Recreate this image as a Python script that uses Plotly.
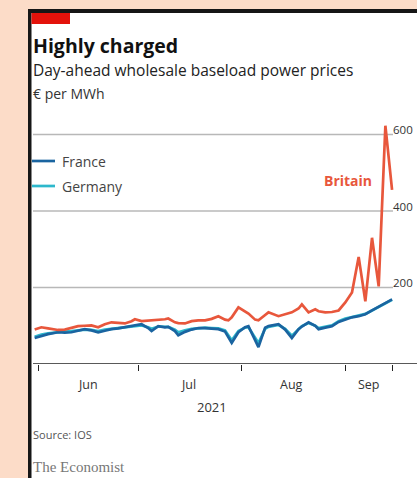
import plotly.graph_objects as go

# ---- data ----
dates = [
    "2021-05-31", "2021-06-02", "2021-06-04", "2021-06-07", "2021-06-09", "2021-06-11",
    "2021-06-13", "2021-06-15", "2021-06-17", "2021-06-19", "2021-06-21", "2021-06-23",
    "2021-06-25", "2021-06-27", "2021-06-29", "2021-06-30", "2021-07-02", "2021-07-04",
    "2021-07-05", "2021-07-07", "2021-07-09", "2021-07-10", "2021-07-12", "2021-07-13",
    "2021-07-15", "2021-07-17", "2021-07-19", "2021-07-21", "2021-07-23", "2021-07-25",
    "2021-07-27", "2021-07-28", "2021-07-29", "2021-07-31", "2021-08-02", "2021-08-03",
    "2021-08-05", "2021-08-06", "2021-08-08", "2021-08-09", "2021-08-12", "2021-08-14",
    "2021-08-16", "2021-08-18", "2021-08-19", "2021-08-21", "2021-08-23", "2021-08-24",
    "2021-08-26", "2021-08-28", "2021-08-30", "2021-09-01", "2021-09-03", "2021-09-05",
    "2021-09-07", "2021-09-09", "2021-09-11", "2021-09-13", "2021-09-15",
]
britain = [
    90, 96, 93, 89, 90, 95, 99, 100, 101, 96, 104, 109,
    107, 106, 112, 117, 112, 113, 114, 115, 117, 119, 109, 107,
    106, 112, 114, 114, 118, 125, 116, 114, 122, 148, 136, 132,
    116, 114, 128, 135, 125, 130, 135, 145, 156, 135, 143, 138,
    135, 136, 140, 161, 187, 280, 164, 330, 203, 623, 455,
]
france = [
    68, 74, 78, 83, 82, 83, 87, 91, 88, 83, 87, 91,
    93, 96, 98, 99, 104, 94, 86, 99, 96, 97, 86, 75,
    84, 90, 94, 94, 93, 91, 85, 70, 55, 83, 96, 99,
    62, 44, 95, 99, 104, 90, 68, 91, 98, 109, 100, 91,
    95, 99, 110, 117, 122, 125, 130, 140, 150, 158, 169,
]
germany = [
    71, 77, 80, 84, 85, 86, 88, 90, 89, 86, 90, 92,
    94, 96, 99, 100, 101, 96, 92, 98, 97, 97, 90, 83,
    88, 92, 93, 95, 94, 93, 88, 75, 62, 86, 95, 96,
    68, 55, 92, 97, 102, 92, 74, 92, 99, 107, 100, 94,
    97, 101, 112, 119, 123, 127, 131, 140, 150, 159, 168,
]
y_ticks = [200, 400, 600]
y_tick_text = ["200", "400", "600"]
month_ticks = ["2021-06-01", "2021-07-01", "2021-08-01", "2021-09-01", "2021-09-15"]
month_labels = ["Jun", "Jul", "Aug", "Sep"]
month_label_pos = ["2021-06-16", "2021-07-16", "2021-08-16", "2021-09-08"]

# ---- layout helpers (pixel -> paper) ----
W, H = 417, 478
L, R, T, B = 33, 405, 105, 364
GRID_END = 393


def xp(px):
    return (px - L) / (R - L)


def yp(py):
    return (B - py) / (B - T)


RED = "#E8573C"
BLUE = "#1A64A0"
CYAN = "#2DB8CC"
PEACH = "#FCDCC8"
FONT = "Open Sans"

fig = go.Figure()
fig.add_trace(go.Scatter(x=dates, y=germany, mode="lines", name="Germany",
                         line=dict(color=CYAN, width=2.7), hoverinfo="skip"))
fig.add_trace(go.Scatter(x=dates, y=france, mode="lines", name="France",
                         line=dict(color=BLUE, width=2.7), hoverinfo="skip"))
fig.add_trace(go.Scatter(x=dates, y=britain, mode="lines", name="Britain",
                         line=dict(color=RED, width=2.7), hoverinfo="skip"))

shapes = [
    # peach surround
    dict(type="rect", xref="paper", yref="paper", x0=xp(-5), x1=xp(28), y0=yp(H + 5), y1=yp(-5),
         fillcolor=PEACH, line_width=0),
    dict(type="rect", xref="paper", yref="paper", x0=xp(-5), x1=xp(W + 5), y0=yp(9), y1=yp(-5),
         fillcolor=PEACH, line_width=0),
    # black frame
    dict(type="rect", xref="paper", yref="paper", x0=xp(28), x1=xp(31.5), y0=yp(H + 5), y1=yp(9),
         fillcolor="#161616", line_width=0),
    dict(type="rect", xref="paper", yref="paper", x0=xp(28), x1=xp(W + 5), y0=yp(13), y1=yp(9),
         fillcolor="#161616", line_width=0),
    # red tag
    dict(type="rect", xref="paper", yref="paper", x0=xp(31.5), x1=xp(70), y0=yp(24), y1=yp(13),
         fillcolor="#E3120B", line_width=0),
    # x axis baseline
    dict(type="line", xref="paper", yref="y", x0=0, x1=xp(W + 5), y0=0, y1=0,
         line=dict(color="#222222", width=1.6)),
    # legend keys
    dict(type="line", xref="paper", yref="paper", x0=xp(32), x1=xp(55), y0=yp(161), y1=yp(161),
         line=dict(color=BLUE, width=2.7)),
    dict(type="line", xref="paper", yref="paper", x0=xp(32), x1=xp(55), y0=yp(186), y1=yp(186),
         line=dict(color=CYAN, width=2.7)),
]
# horizontal gridlines on the y scale
for v in y_ticks:
    shapes.append(dict(type="line", xref="paper", yref="y", x0=0, x1=xp(GRID_END), y0=v, y1=v,
                       line=dict(color="#B8B8B8", width=1.3), layer="below"))

annotations = [
    dict(text="<b>Highly charged</b>", x=xp(31), y=yp(45), xref="paper", yref="paper",
         xanchor="left", yanchor="middle", showarrow=False,
         font=dict(family=FONT, size=19.5, color="#111111")),
    dict(text="Day-ahead wholesale baseload power prices", x=xp(31), y=yp(70), xref="paper",
         yref="paper", xanchor="left", yanchor="middle", showarrow=False,
         font=dict(family=FONT, size=15.5, color="#222222")),
    dict(text="€ per MWh", x=xp(31), y=yp(93), xref="paper", yref="paper",
         xanchor="left", yanchor="middle", showarrow=False,
         font=dict(family=FONT, size=14, color="#333333")),
    dict(text="France", x=xp(60), y=yp(161), xref="paper", yref="paper",
         xanchor="left", yanchor="middle", showarrow=False,
         font=dict(family=FONT, size=14, color="#444444")),
    dict(text="Germany", x=xp(60), y=yp(186), xref="paper", yref="paper",
         xanchor="left", yanchor="middle", showarrow=False,
         font=dict(family=FONT, size=14, color="#444444")),
    dict(text="<b>Britain</b>", x=xp(348), y=yp(180), xref="paper", yref="paper",
         xanchor="center", yanchor="middle", showarrow=False,
         font=dict(family=FONT, size=14, color=RED)),
    dict(text="2021", x="2021-07-23", y=yp(407), xref="x", yref="paper",
         xanchor="center", yanchor="middle", showarrow=False,
         font=dict(family=FONT, size=13, color="#333333")),
    dict(text="Source: IOS", x=xp(31), y=yp(434), xref="paper", yref="paper",
         xanchor="left", yanchor="middle", showarrow=False,
         font=dict(family=FONT, size=11, color="#555555")),
    dict(text="The Economist", x=xp(31), y=yp(467), xref="paper", yref="paper",
         xanchor="left", yanchor="middle", showarrow=False,
         font=dict(family="Liberation Serif", size=15, color="#777777")),
]
for lab, pos in zip(month_labels, month_label_pos):
    annotations.append(dict(text=lab, x=pos, y=yp(384), xref="x", yref="paper",
                            xanchor="center", yanchor="middle", showarrow=False,
                            font=dict(family=FONT, size=12.5, color="#333333")))
for v, t in zip(y_ticks, y_tick_text):
    annotations.append(dict(text=t, x=xp(414), y=v, xref="paper", yref="y",
                            xanchor="right", yanchor="middle", yshift=5, showarrow=False,
                            borderpad=0, font=dict(family=FONT, size=11.5, color="#333333")))

fig.update_layout(
    width=W, height=H,
    margin=dict(l=L, r=W - R, t=T, b=H - B, pad=0, autoexpand=False),
    paper_bgcolor="white", plot_bgcolor="white",
    showlegend=False,
    shapes=shapes, annotations=annotations,
    xaxis=dict(type="date", range=["2021-05-30 12:00", "2021-09-18 21:00"],
               tickvals=month_ticks, showticklabels=False, ticks="outside",
               ticklen=6, tickwidth=1.2, tickcolor="#222222", automargin=False,
               showgrid=False, zeroline=False, showline=False, fixedrange=True),
    yaxis=dict(range=[0, (B - T) / 0.3825], showticklabels=False, showgrid=False,
               zeroline=False, showline=False, ticks="", automargin=False,
               fixedrange=True),
)

fig.write_html("out.html", config={"displayModeBar": False},
               post_script="document.body.style.margin='0px';document.body.style.overflow='hidden';")
